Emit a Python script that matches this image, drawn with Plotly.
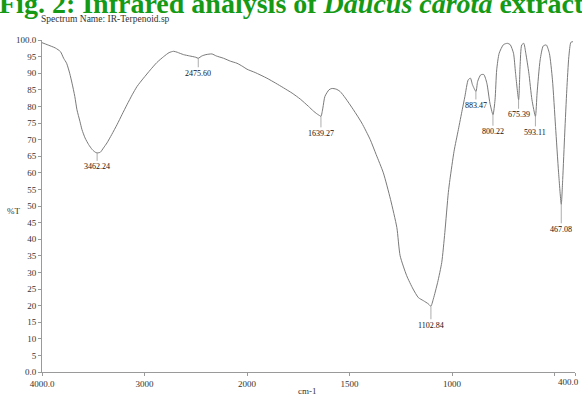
import plotly.graph_objects as go

# ---- data ----
wavenumber = [4000, 3950, 3870, 3820, 3789, 3760, 3730, 3707, 3680, 3659, 3630, 3610, 3580, 3545,
              3510, 3480, 3462, 3431, 3400, 3366, 3320, 3268, 3220, 3171, 3120, 3073, 3010, 2943,
              2880, 2813, 2760, 2716, 2680, 2620, 2560, 2500, 2476, 2440, 2400, 2342, 2300, 2229,
              2160, 2098, 2040, 2000, 1960, 1903, 1860, 1822, 1780, 1740, 1700, 1676, 1660, 1645,
              1639, 1630, 1620, 1600, 1586, 1565, 1546, 1520, 1481, 1440, 1399, 1370, 1335, 1300,
              1269, 1253, 1221, 1190, 1164, 1140, 1115, 1103, 1091, 1070, 1050, 1035, 1018, 1010,
              990, 969, 950, 937, 921, 910, 900, 883, 875, 860, 845, 830, 815, 800, 790, 782, 770,
              749, 730, 716, 700, 690, 675, 668, 660, 650, 640, 625, 610, 593, 585, 570, 555, 540,
              525, 510, 495, 480, 467, 460, 450, 440, 430, 420, 410]
transmittance = [99.2, 98.6, 97.6, 96.5, 94.5, 93.0, 90.0, 87.0, 83.0, 79.0, 75.5, 73.0, 70.5, 68.5,
                 67.0, 66.2, 66.0, 66.2, 67.5, 69.0, 71.5, 74.5, 77.5, 80.5, 83.5, 86.0, 88.5, 91.0,
                 93.2, 95.0, 96.2, 96.6, 96.3, 95.6, 95.2, 94.8, 94.5, 95.2, 95.6, 95.8, 95.2, 94.5,
                 93.6, 93.0, 92.0, 91.2, 90.2, 88.5, 87.0, 85.6, 84.0, 82.2, 80.0, 78.6, 77.8, 77.2,
                 77.0, 79.5, 83.0, 85.0, 85.4, 85.2, 84.5, 82.5, 79.0, 75.0, 70.0, 65.5, 60.0, 52.0,
                 43.5, 35.0, 29.0, 25.0, 22.4, 21.5, 20.5, 19.8, 22.0, 27.0, 33.0, 42.0, 54.0, 58.0,
                 66.5, 73.0, 79.0, 83.0, 88.0, 88.5, 86.5, 84.5, 87.5, 89.5, 89.6, 87.0, 81.0, 77.5,
                 82.0, 91.0, 96.0, 98.6, 99.0, 98.6, 96.0, 90.0, 82.0, 92.0, 98.5, 99.0, 96.0, 90.0,
                 82.0, 77.0, 84.0, 94.0, 98.2, 98.5, 96.0, 88.0, 74.0, 60.0, 50.5, 58.0, 72.0, 85.0,
                 95.0, 99.3, 99.5]

peak_wn = [3462.24, 2475.60, 1639.27, 1102.84, 883.47, 800.22, 675.39, 593.11, 467.08]
peak_T = [66.0, 94.5, 77.0, 19.8, 84.5, 77.5, 82.0, 77.0, 50.5]
peak_labels = ["3462.24", "2475.60", "1639.27", "1102.84", "883.47", "800.22", "675.39", "593.11", "467.08"]
peak_label_offset = [14, 15, 17, 19, 14, 17, 15, 16, 25]

x_tick_values = [4000, 3000, 2000, 1500, 1000, 500, 400]
x_tick_labels = ["4000.0", "3000", "2000", "1500", "1000", "", "400.0"]
y_tick_values = list(range(0, 101, 5))
y_tick_labels = ["0.0"] + [str(v) for v in range(5, 100, 5)] + ["100.0"]


def axis_pos(w):
    # the instrument's x scale is compressed 2:1 above 2000 cm-1
    return (4000 - w) / 2 if w >= 2000 else 1000 + (2000 - w)


FONT = "Liberation Serif, Times New Roman, serif"
W, H = 582, 395
ML, MR, MT, MB = 42, 7, 40, 23
PW, PH = W - ML - MR, H - MT - MB


def px_x(p):
    return (p - ML) / PW


def px_y(p):
    return 1 - (p - MT) / PH


fig = go.Figure()
fig.add_trace(go.Scatter(
    x=[axis_pos(w) for w in wavenumber], y=transmittance,
    mode="lines", line=dict(color="#7a7a7a", width=1, shape="spline", smoothing=0.6),
    hoverinfo="skip", showlegend=False))

annotations = []
for w, t, lab, off in zip(peak_wn, peak_T, peak_labels, peak_label_offset):
    annotations.append(dict(
        x=axis_pos(w), y=t, xref="x", yref="y", text=lab, showarrow=True,
        arrowhead=0, arrowwidth=0.7, arrowcolor="#8a8a8a", ax=0, ay=off, standoff=0,
        font=dict(family=FONT, size=8, color="#111")))

# the last x tick label sits at the right page edge, so it is drawn right-aligned
annotations.append(dict(text=x_tick_labels[-1], xref="paper", yref="paper",
                        x=px_x(581), y=px_y(382), xanchor="right", yanchor="middle",
                        showarrow=False, font=dict(family=FONT, size=9, color="#333")))

annotations += [
    dict(text="<b>Fig. 2: Infrared analysis of <i>Daucus carota</i> extracts.</b>",
         xref="paper", yref="paper", x=px_x(-3), y=px_y(4), xanchor="left", yanchor="middle",
         showarrow=False, font=dict(family=FONT, size=28, color="#169a16")),
    dict(text="Spectrum Name: IR-Terpenoid.sp", xref="paper", yref="paper",
         x=px_x(39), y=px_y(18.5), xanchor="left", yanchor="middle", showarrow=False,
         font=dict(family=FONT, size=9.5, color="#333")),
    dict(text="%T", xref="paper", yref="y", x=px_x(13), y=48.5, xanchor="center",
         yanchor="middle", showarrow=False, font=dict(family=FONT, size=9, color="#333")),
    dict(text="cm-1", xref="paper", yref="paper", x=px_x(307), y=px_y(391),
         xanchor="center", yanchor="middle", showarrow=False,
         font=dict(family=FONT, size=9, color="#333")),
]

fig.update_layout(
    width=W, height=H, margin=dict(l=ML, r=MR, t=MT, b=MB),
    paper_bgcolor="white", plot_bgcolor="white", showlegend=False,
    annotations=annotations,
    xaxis=dict(range=[0, 2600], tickmode="array",
               tickvals=[axis_pos(w) for w in x_tick_values],
               ticktext=x_tick_labels[:-1] + [""],
               showgrid=False, zeroline=False, showline=True, linecolor="#9a9a9a", linewidth=1,
               ticks="outside", ticklen=3, tickcolor="#9a9a9a",
               tickfont=dict(family=FONT, size=9, color="#333")),
    yaxis=dict(range=[0, 100], tickmode="array", tickvals=y_tick_values, ticktext=y_tick_labels,
               showgrid=False, zeroline=False, showline=True, linecolor="#9a9a9a", linewidth=1,
               ticks="outside", ticklen=3, tickcolor="#9a9a9a",
               tickfont=dict(family=FONT, size=9, color="#333")),
)

fig.write_html("out.html", config={"displayModeBar": False},
               post_script="document.body.style.margin='0px';document.body.style.overflow='hidden';")
